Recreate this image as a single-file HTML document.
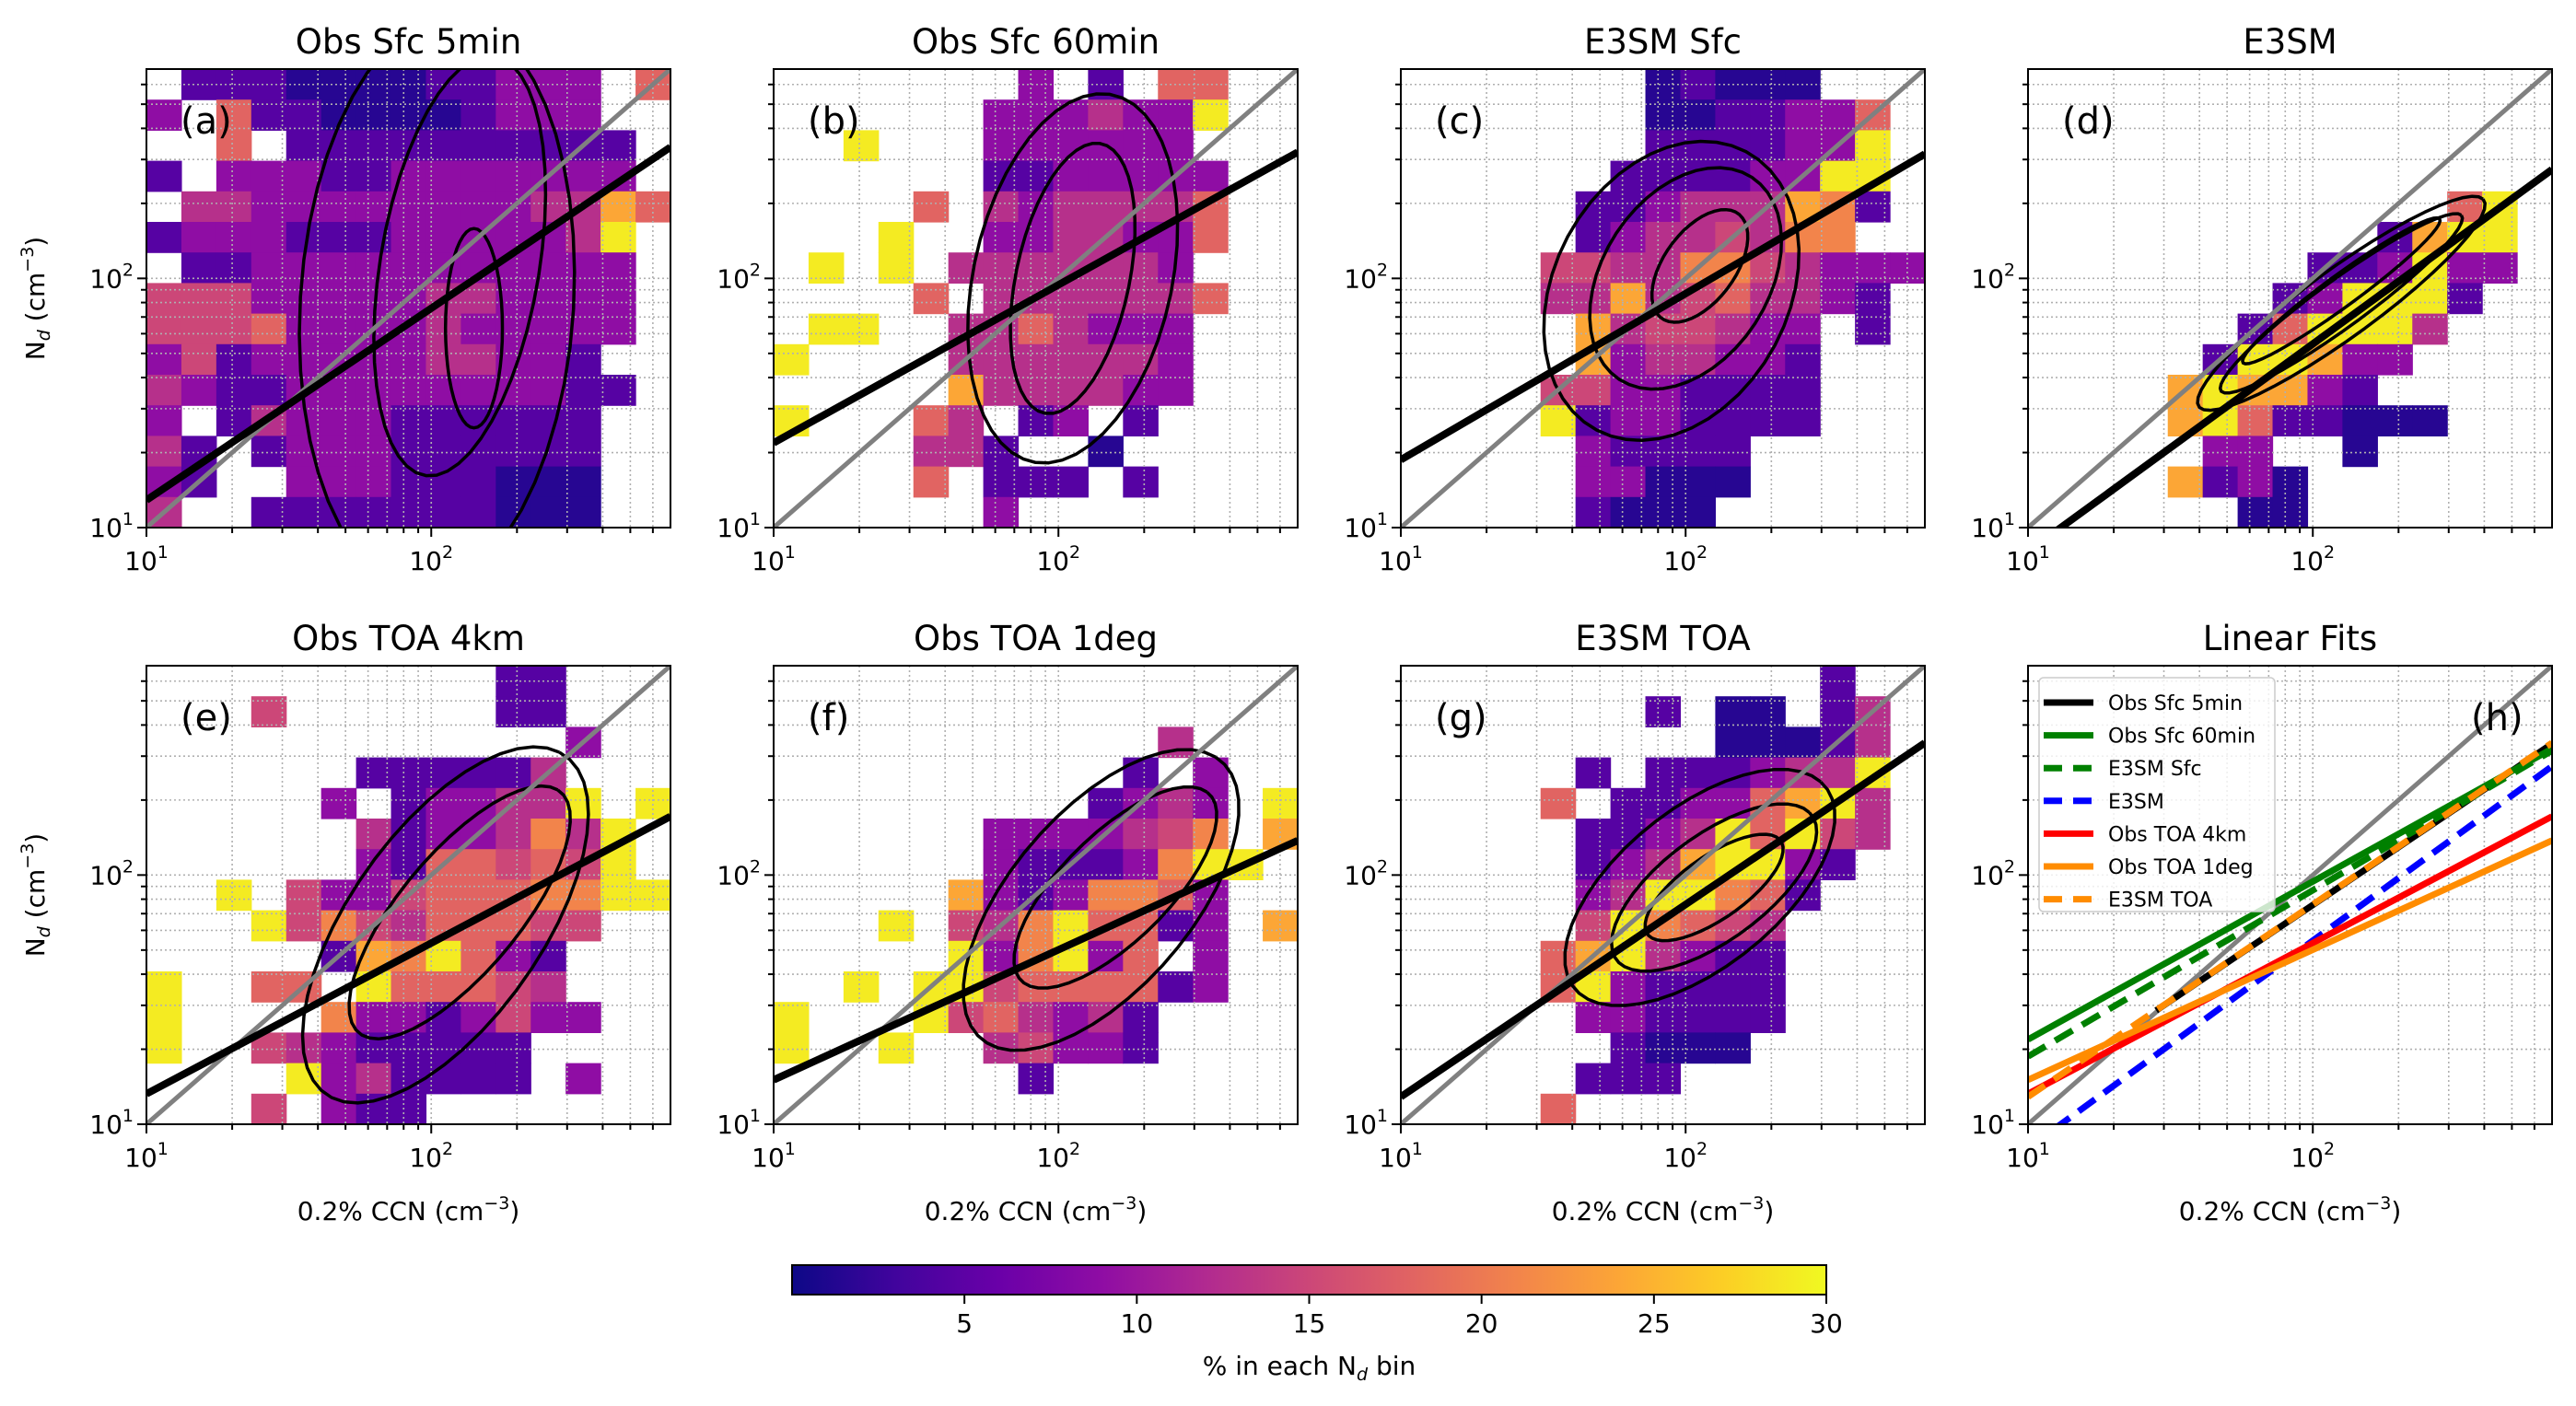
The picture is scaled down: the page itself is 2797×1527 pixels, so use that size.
<!DOCTYPE html>
<html><head><meta charset="utf-8"><style>
html,body{margin:0;padding:0;background:#fff;}
svg{display:block;font-family:"DejaVu Sans","Liberation Sans",sans-serif;}
</style></head><body>
<svg id="fig" width="2797" height="1527" viewBox="0 0 2797 1527" xmlns="http://www.w3.org/2000/svg">
<defs>
<linearGradient id="plasma" x1="0" x2="1" y1="0" y2="0">
<stop offset="0" stop-color="#0d0887"/><stop offset="0.1" stop-color="#41049d"/><stop offset="0.2" stop-color="#6a00a8"/><stop offset="0.3" stop-color="#8f0da4"/><stop offset="0.4" stop-color="#b12a90"/><stop offset="0.5" stop-color="#cc4778"/><stop offset="0.6" stop-color="#e16462"/><stop offset="0.7" stop-color="#f2844b"/><stop offset="0.8" stop-color="#fca636"/><stop offset="0.9" stop-color="#fcce25"/><stop offset="1" stop-color="#f0f921"/>
</linearGradient>
</defs>
</svg>
<script>
// ---------- data ----------
const panelTitles = ["Obs Sfc 5min","Obs Sfc 60min","E3SM Sfc","E3SM","Obs TOA 4km","Obs TOA 1deg","E3SM TOA","Linear Fits"];
const panelLetters = ["(a)","(b)","(c)","(d)","(e)","(f)","(g)","(h)"];
// level codes per heatmap cell ('.' = empty), top row = highest Nd
const levelValues = [0,1.5,4.5,9,12.6,15,18,21,24,29];
const gridA = [".222111122333.6","3.62211112333..","..6.2222222222.","2.333223333333.",".44333333334486","23332223333349.",".2233333333333.","55533333443333.","55563333433333.","3523333344332..","43223333333322.","3.24333222222..","42.2333222222..","32..333222111..","4..2222222111.."];
const gridB = [".......3.2.66..","......3334339..","..9...333333...","......2233333..","....6.4344446..","...9..3344336..",".9.9.4444443...","....6.4444446..",".99..4464333...","9....4444443...",".....8444433...","9...64.23.2....","....442..1.....","....6.222.2....","......3........"];
const gridC = [".......12111...",".......1122336.",".......2222339.","......22223399.",".....223444872.",".....23445477..","....55447754333","....4484564432.",".....8455433.2.",".....8344332...","....55332222...","....92332222...",".....32222.....",".....33111.....",".....2111......"];
const gridD = ["...............","...............","...............","...............","............69.","..........2899.","........223933.",".......239992..","......269994...",".....299833....","....898832.....","....89622111...",".....33..1.....","....8231.......","......11......."];
const gridE = ["..........22...","...5......22...","............3..","......222224...",".....3.233449.9","......42334749.","......32665659.","..9.53356667799","...9575466655..",".....2879632...","9..66.966654...","9....73323533..","9..54322222....","....9342222.3..","...5.322......."];
const gridF = ["...............","...............","...........4...","..........2.3..",".........2343.9","......3333457.8","......32223799.",".....83237763..","...9.54796623.8",".....937936.3..","..9.995666623..","9...9564342....","9..9..45332....",".......2.......","..............."];
const gridG = ["............2..",".......2.11.24.",".........11124.",".....2.2223449.","....6.22336894.",".....22349695 4.".replace(" ",""),".....23489932..",".....3499762...",".....597654....","....6894322....","....6932222....",".....332222....","......2111.....",".....222.......","....6.........."];
const grids = [gridA,gridB,gridC,gridD,gridE,gridF,gridG];
// fit lines: log10(Nd) = fitIntercept + fitSlope*log10(CCN)
const fitSlope = [0.77,0.634,0.667,0.833,0.605,0.522,0.772];
const fitIntercept = [0.34,0.706,0.605,0.071,0.517,0.656,0.338];
// contour ellipses (log10 space): centreX, centreY, radiusX, radiusY, angle
const contourCx = [[2.02,2.1,2.15],[2.05,2.05],[1.95,2.0,2.05],[2.1,2.1,2.1],[2.05,2.1],[2.15,2.2],[2.05,2.1,2.1]];
const contourCy = [[1.9,2.05,1.8],[2.0,2.0],[1.95,2.0,2.05],[1.9,1.9,1.95],[1.8,1.85],[1.9,1.95],[1.95,1.95,1.95]];
const contourRx = [[0.48,0.28,0.1],[0.35,0.2],[0.42,0.3,0.13],[0.65,0.55,0.45],[0.8,0.6],[0.7,0.5],[0.6,0.45,0.3]];
const contourRy = [[1.15,0.85,0.4],[0.75,0.55],[0.62,0.47,0.25],[0.13,0.09,0.06],[0.35,0.22],[0.33,0.2],[0.3,0.2,0.12]];
const contourAng = [[-3,-8,0],[-10,-10],[-20,-25,-30],[40,40,40],[60,55],[55,50],[45,42,40]];
const legendLabels = ["Obs Sfc 5min","Obs Sfc 60min","E3SM Sfc","E3SM","Obs TOA 4km","Obs TOA 1deg","E3SM TOA"];
const legendColors = ["#000000","#008000","#008000","#0000ff","#ff0000","#ff8c00","#ff8c00"];
const legendDashed = [false,false,true,true,false,false,true];
const cbarTicks = [5,10,15,20,25,30];
const LOGMIN = 1, LOGMAX = 2.84, NBIN = 15;
const CMIN = 0, CMAX = 30;

// ---------- helpers ----------
const svg = document.getElementById('fig');
const NS = "http://www.w3.org/2000/svg";
function mk(tag, attrs, parent){const e=document.createElementNS(NS,tag);for(const k in attrs)e.setAttribute(k,attrs[k]);(parent||svg).appendChild(e);return e;}
const plasmaStops=["#0d0887","#41049d","#6a00a8","#8f0da4","#b12a90","#cc4778","#e16462","#f2844b","#fca636","#fcce25","#f0f921"];
function hex(h){return [1,3,5].map(i=>parseInt(h.substr(i,2),16));}
function plasma(t){t=Math.max(0,Math.min(1,t));const p=t*10,i=Math.min(9,Math.floor(p)),f=p-i;const a=hex(plasmaStops[i]),b=hex(plasmaStops[i+1]);return "rgb("+a.map((v,k)=>Math.round(v+(b[k]-v)*f)).join(",")+")";}

function panelBox(i){const col=i%4,row=Math.floor(i/4);return {L:159+681*col,T:row?723:75,W:569,H:498};}

for(let p=0;p<8;p++){
  const b=panelBox(p);
  const sx=v=>b.L+(v-LOGMIN)/(LOGMAX-LOGMIN)*b.W;
  const sy=v=>b.T+b.H-(v-LOGMIN)/(LOGMAX-LOGMIN)*b.H;
  const g=mk('g',{});
  
  
  mk('clipPath',{id:'clip'+p},g);
  mk('rect',{x:b.L,y:b.T,width:b.W,height:b.H},document.getElementById('clip'+p));
  if(p<7){
    const hg=mk('g',{'clip-path':'url(#clip'+p+')'},g);
    
    
    const rows=grids[p], d=(LOGMAX-LOGMIN)/NBIN;
    rows.forEach((r,ri)=>{
      for(let ci=0;ci<NBIN;ci++){
        const ch=r[ci]; if(!ch||ch==='.') continue;
        const val=levelValues[+ch];
        const y1=LOGMAX-ri*d, y0=y1-d, x0=LOGMIN+ci*d;
        const c=mk('rect',{x:sx(x0),y:sy(y1),width:sx(x0+d)-sx(x0)+0.6,height:sy(y0)-sy(y1)+0.6,fill:plasma((val-CMIN)/(CMAX-CMIN))},hg);
        
        
      }
    });
  }
  const gg=mk('g',{stroke:'#b0b0b0','stroke-width':1.6,'stroke-dasharray':'2,3',fill:'none'},g);
  
  
  const tickVals=[];
  for(let n=1;n<=2;n++)for(let k=1;k<=9;k++){const v=Math.log10(k*Math.pow(10,n));if(v<=LOGMAX+1e-6)tickVals.push([v,k===1]);}
  tickVals.forEach(([v])=>{mk('line',{x1:sx(v),x2:sx(v),y1:b.T,y2:b.T+b.H},gg);mk('line',{x1:b.L,x2:b.L+b.W,y1:sy(v),y2:sy(v)},gg);});
  if(p<7){
    const cg=mk('g',{'clip-path':'url(#clip'+p+')',fill:'none',stroke:'#000','stroke-width':3.5,'stroke-linejoin':'round'},g);
    
    
    contourCx[p].forEach((cx,k)=>{
      const cy=contourCy[p][k],rx=contourRx[p][k],ry=contourRy[p][k],a=contourAng[p][k]*Math.PI/180;
      let pts=[];
      for(let s=0;s<=48;s++){const t=s/48*2*Math.PI;const ux=rx*Math.cos(t),uy=ry*Math.sin(t);
        pts.push(sx(cx+ux*Math.cos(a)-uy*Math.sin(a)).toFixed(1)+","+sy(cy+ux*Math.sin(a)+uy*Math.cos(a)).toFixed(1));}
      const pl=mk('polyline',{points:pts.join(" ")},cg);
      
      
    });
  }
  const lg=mk('g',{'clip-path':'url(#clip'+p+')',fill:'none'},g);
  const one=mk('line',{x1:sx(LOGMIN),y1:sy(LOGMIN),x2:sx(LOGMAX),y2:sy(LOGMAX),stroke:'#808080','stroke-width':5},lg);
  
  
  const fitIdx = p<7?[p]:[0,1,2,3,4,5,6];
  fitIdx.forEach(fi=>{
    const col=p<7?'#000':legendColors[fi];
    const dash=(p===7&&legendDashed[fi])?'22,12':'none';
    const x0=(p===7&&fi===0)?1.45:LOGMIN;
    const ln=mk('line',{x1:sx(x0),y1:sy(fitIntercept[fi]+fitSlope[fi]*x0),x2:sx(LOGMAX),y2:sy(fitIntercept[fi]+fitSlope[fi]*LOGMAX),stroke:col,'stroke-width':p<7?8:7,'stroke-dasharray':dash},lg);
    
    
  });
  const fr=mk('rect',{x:b.L,y:b.T,width:b.W,height:b.H,fill:'none',stroke:'#000','stroke-width':2},g);
  
  
  tickVals.forEach(([v,maj])=>{
    const len=maj?10:6;
    mk('line',{x1:sx(v),x2:sx(v),y1:b.T+b.H,y2:b.T+b.H+len,stroke:'#000','stroke-width':2},g);
    mk('line',{x1:b.L,x2:b.L-len,y1:sy(v),y2:sy(v),stroke:'#000','stroke-width':2},g);
    if(maj){
      const e=Math.round(v);
      const tx=mk('text',{x:sx(v),y:b.T+b.H+46,'text-anchor':'middle','font-size':28},g);
      
      
      tx.innerHTML='10<tspan dy="-13" font-size="19">'+e+'</tspan>';
      const ty=mk('text',{x:b.L-14,y:sy(v)+10,'text-anchor':'end','font-size':28},g);
      
      
      ty.innerHTML='10<tspan dy="-13" font-size="19">'+e+'</tspan>';
    }
  });
  const tt=mk('text',{x:b.L+b.W/2,y:b.T-17,'text-anchor':'middle','font-size':37},g);
  tt.textContent=panelTitles[p];
  
  
  const lt=mk('text',{x:p===7?b.L+b.W-88:b.L+37,y:b.T+70,'font-size':40},g);
  lt.textContent=panelLetters[p];
  
  
  if(p%4===0){
    const yl=mk('text',{x:0,y:0,'text-anchor':'middle','font-size':28,transform:'translate(48,'+(b.T+b.H/2)+') rotate(-90)'},g);
    yl.innerHTML='N<tspan dy="6" font-size="19" font-style="italic">d</tspan><tspan dy="-6"> (cm</tspan><tspan dy="-12" font-size="19">−3</tspan><tspan dy="12">)</tspan>';
    
    
  }
  if(p>=4){
    const xl=mk('text',{x:b.L+b.W/2,y:1325,'text-anchor':'middle','font-size':28},g);
    xl.innerHTML='0.2% CCN (cm<tspan dy="-12" font-size="19">−3</tspan><tspan dy="12">)</tspan>';
    
    
  }
  if(p===7){
    const lgd=mk('g',{},g);
    
    
    mk('rect',{x:2214,y:736,width:256,height:254,rx:5,fill:'#fff','fill-opacity':0.8,stroke:'#ccc','stroke-width':1.5},lgd);
    legendLabels.forEach((lab,k)=>{
      const y=763+k*35.6;
      const sl=mk('line',{x1:2219,x2:2273,y1:y,y2:y,stroke:legendColors[k],'stroke-width':7,'stroke-dasharray':legendDashed[k]?'20,12':'none'},lgd);
      
      
      const tx=mk('text',{x:2289,y:y+8,'font-size':22},lgd);
      tx.textContent=lab;
      
      
    });
  }
}
const cb=mk('g',{});


const CBL=860,CBR=1983,CBT=1374,CBB=1406;
mk('rect',{x:CBL,y:CBT,width:CBR-CBL,height:CBB-CBT,fill:'url(#plasma)',stroke:'#000','stroke-width':2},cb);
cbarTicks.forEach(v=>{
  const x=CBL+(v-CMIN)/(CMAX-CMIN)*(CBR-CBL);
  mk('line',{x1:x,x2:x,y1:CBB,y2:CBB+10,stroke:'#000','stroke-width':2},cb);
  const t=mk('text',{x:x,y:1447,'text-anchor':'middle','font-size':28},cb);
  t.textContent=v;
  
  
});
const cl=mk('text',{x:(CBL+CBR)/2,y:1493,'text-anchor':'middle','font-size':28},cb);
cl.innerHTML='% in each N<tspan dy="6" font-size="19" font-style="italic">d</tspan><tspan dy="-6"> bin</tspan>';


</script>
</body></html>
